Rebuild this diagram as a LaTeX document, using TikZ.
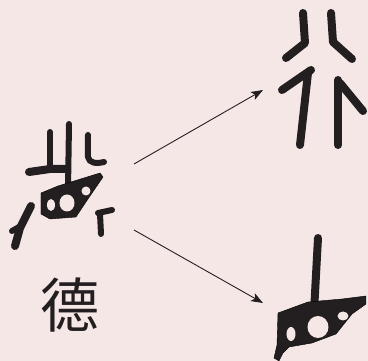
\documentclass[tikz,border=0pt]{standalone}
\usepackage{fontspec}
\newfontfamily\cjk{Noto Sans CJK SC}
\usetikzlibrary{arrows.meta}
\definecolor{bg}{RGB}{246,231,231}
\definecolor{ink}{RGB}{35,31,32}
\tikzset{
  brush/.style={draw=ink, line width=8pt, line cap=round, line join=round},
  thinbrush/.style={draw=ink, line width=6pt, line cap=round, line join=round},
  blob/.style={fill=ink},
  hole/.style={fill=bg},
  conn/.style={draw=ink, line width=0.9pt, -{Stealth[length=12pt,width=9pt,inset=3pt]}}
}
\begin{document}
\begin{tikzpicture}[x=1pt,y=-1pt]
\fill[bg] (0,0) rectangle (368,361);
\useasboundingbox (0,0) rectangle (368,361);

% ---- left glyph (source) ----
\draw[thinbrush] (69,124) -- (68,190);
\draw[thinbrush] (50,132) -- (50,168);
\draw[brush] (29,172) -- (50,169) -- (65,169);
\draw[thinbrush] (88,135) -- (88,157) .. controls (89,163) and (96,164) .. (104,162);
\draw[blob] (41,193) -- (58,186) -- (100,173) -- (103,177) -- (90,196) -- (76,217) -- (50,219) -- (41,214) -- cycle;
\fill[hole] (51,205) ellipse (4pt and 6pt);
\fill[hole] (67,203) ellipse (7.5pt and 8.5pt);
\fill[hole] (86,191) ellipse (4.5pt and 4.5pt);
\draw[brush] (31,206) -- (20,228) -- (15,246);
\draw[thinbrush] (19,227) -- (12,231);
\draw[thinbrush] (101,234) -- (100,214);
\draw[thinbrush] (98,213) -- (112,210);
\node[font=\cjk\fontsize{59}{59}\selectfont, text=ink] (de) at (70,305) {德};

% ---- top right glyph ----
\draw[brush] (303,13) -- (305,43) -- (286,58);
\draw[brush] (331,13) -- (333,42) -- (352,59);
\draw[brush] (311,70) -- (282,90);
\draw[brush] (308,73) -- (300,145);
\draw[brush] (338,80) -- (338,145);
\draw[brush] (340,83) -- (363,111);

% ---- bottom right glyph ----
\draw[brush] (318,238) -- (314,312);
\draw[blob] (278,313) -- (308,302) -- (342,299) -- (366,296) -- (366,304) -- (352,314) -- (336,334) -- (312,343) -- (289,347) -- (283,353) -- (279,361) -- (274,358) -- (277,345) -- cycle;
\fill[hole] (291,334) ellipse (4.5pt and 7pt);
\fill[hole] (318,327) ellipse (10.5pt and 11pt);
\fill[hole] (343,316) ellipse (5.5pt and 4.5pt);

% ---- connectors ----
\coordinate (s1) at (134,164);
\coordinate (t1) at (263,90);
\coordinate (s2) at (134,230);
\coordinate (t2) at (263,303);
\draw[conn] (s1) -- (t1);
\draw[conn] (s2) -- (t2);
\end{tikzpicture}
\end{document}
